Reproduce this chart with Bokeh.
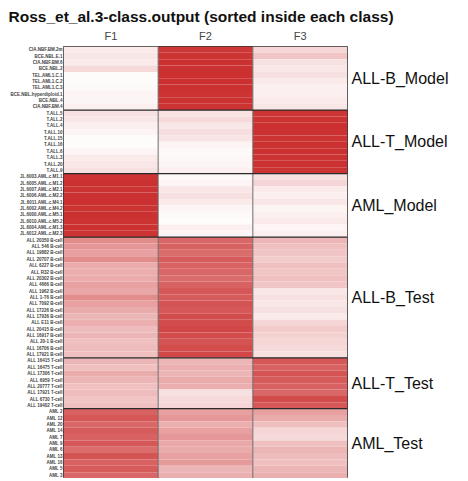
from bokeh.plotting import figure
from bokeh.models import ColumnDataSource, FixedTicker, LinearAxis, LinearColorMapper
from bokeh.embed import file_html
from bokeh.resources import INLINE
import numpy as np

title_text = "Ross_et_al.3-class.output (sorted inside each class)"
columns = ["F1", "F2", "F3"]
class_names = ["ALL-B_Model", "ALL-T_Model", "AML_Model", "ALL-B_Test", "ALL-T_Test", "AML_Test"]

labels_allb_model = ["CIA.NBF.BM.2m", "BCE.NBL.E.1", "CIA.NBF.BM.6", "BCE.NBL.2", "TEL.AML1.C.1",
                     "TEL.AML1.C.2", "TEL.AML1.C.3", "BCE.NBL.hyperdiploid.1", "BCE.NBL.4", "CIA.NBF.BM.4"]
labels_allt_model = ["T.ALL.5", "T.ALL.2", "T.ALL.4", "T.ALL.10", "T.ALL.15", "T.ALL.16", "T.ALL.6",
                     "T.ALL.3", "T.ALL.20", "T.ALL.9"]
labels_aml_model = ["JL.6003.AML.c.M1.1", "JL.6005.AML.c.M1.2", "JL.6007.AML.c.M2.1", "JL.6006.AML.c.M2.2",
                    "JL.6011.AML.c.M4.1", "JL.6002.AML.c.M4.2", "JL.6000.AML.c.M5.1", "JL.6010.AML.c.M5.2",
                    "JL.6004.AML.c.M1.3", "JL.6012.AML.c.M2.3"]
labels_allb_test = ["ALL 20350 B-cell", "ALL 546 B-cell", "ALL 19882 B-cell", "ALL 20707 B-cell",
                    "ALL 6227 B-cell", "ALL R32 B-cell", "ALL 20302 B-cell", "ALL 4666 B-cell",
                    "ALL 1962 B-cell", "ALL 1-T6 B-cell", "ALL 7092 B-cell", "ALL 17226 B-cell",
                    "ALL 17936 B-cell", "ALL E11 B-cell", "ALL 20415 B-cell", "ALL 16917 B-cell",
                    "ALL 20-1 B-cell", "ALL 16706 B-cell", "ALL 17921 B-cell"]
labels_allt_test = ["ALL 16415 T-cell", "ALL 16475 T-cell", "ALL 17306 T-cell", "ALL 6959 T-cell",
                    "ALL 20777 T-cell", "ALL 17921 T-cell", "ALL 6730 T-cell", "ALL 19402 T-cell"]
labels_aml_test = ["AML 2", "AML 12", "AML 20", "AML 14", "AML 7", "AML 9", "AML 6", "AML 13",
                   "AML 16", "AML 5", "AML 3"]

# values per class: rows x [F1, F2, F3]
f1_allb_model = [0.10, 0.12, 0.10, 0.18, 0.02, 0.02, 0.03, 0.06, 0.05, 0.08]
f2_allb_model = [0.95, 0.97, 0.98, 0.98, 0.99, 0.99, 0.98, 0.97, 0.98, 0.97]
f3_allb_model = [0.20, 0.28, 0.15, 0.12, 0.15, 0.10, 0.08, 0.08, 0.10, 0.12]

f1_allt_model = [0.15, 0.12, 0.08, 0.05, 0.02, 0.02, 0.05, 0.10, 0.12, 0.15]
f2_allt_model = [0.14, 0.18, 0.12, 0.16, 0.13, 0.06, 0.03, 0.04, 0.05, 0.08]
f3_allt_model = [0.96, 0.97, 0.98, 0.98, 0.97, 0.98, 0.98, 0.97, 0.98, 0.97]

f1_aml_model = [0.97, 0.98, 0.97, 0.98, 0.98, 0.97, 0.98, 0.97, 0.98, 0.97]
f2_aml_model = [0.03, 0.05, 0.12, 0.15, 0.10, 0.05, 0.03, 0.02, 0.08, 0.05]
f3_aml_model = [0.15, 0.20, 0.10, 0.08, 0.12, 0.06, 0.08, 0.10, 0.05, 0.08]

f1_allb_test = [0.55, 0.50, 0.45, 0.55, 0.40, 0.38, 0.40, 0.45, 0.42, 0.55, 0.45, 0.40, 0.35,
                0.38, 0.32, 0.35, 0.30, 0.32, 0.30]
f2_allb_test = [0.72, 0.75, 0.70, 0.78, 0.75, 0.72, 0.70, 0.75, 0.80, 0.78, 0.82, 0.80, 0.85,
                0.85, 0.88, 0.85, 0.82, 0.85, 0.88]
f3_allb_test = [0.35, 0.30, 0.28, 0.25, 0.30, 0.28, 0.30, 0.28, 0.12, 0.15, 0.12, 0.15, 0.10,
                0.20, 0.25, 0.22, 0.20, 0.18, 0.15]

f1_allt_test = [0.35, 0.30, 0.40, 0.35, 0.30, 0.32, 0.28, 0.30]
f2_allt_test = [0.35, 0.38, 0.35, 0.40, 0.38, 0.15, 0.18, 0.20]
f3_allt_test = [0.80, 0.75, 0.82, 0.78, 0.75, 0.72, 0.85, 0.80]

f1_aml_test = [0.75, 0.80, 0.72, 0.78, 0.75, 0.80, 0.70, 0.82, 0.75, 0.78, 0.72]
f2_aml_test = [0.45, 0.50, 0.38, 0.45, 0.50, 0.42, 0.40, 0.45, 0.48, 0.35, 0.38]
f3_aml_test = [0.45, 0.40, 0.30, 0.20, 0.18, 0.30, 0.35, 0.32, 0.30, 0.35, 0.38]

groups = [
    (labels_allb_model, f1_allb_model, f2_allb_model, f3_allb_model),
    (labels_allt_model, f1_allt_model, f2_allt_model, f3_allt_model),
    (labels_aml_model, f1_aml_model, f2_aml_model, f3_aml_model),
    (labels_allb_test, f1_allb_test, f2_allb_test, f3_allb_test),
    (labels_allt_test, f1_allt_test, f2_allt_test, f3_allt_test),
    (labels_aml_test, f1_aml_test, f2_aml_test, f3_aml_test),
]

row_labels = []
vals = []
for g in groups:
    row_labels += g[0]
    vals += list(zip(g[1], g[2], g[3]))
n = len(row_labels)
counts = [len(g[0]) for g in groups]

xs, ys, vs = [], [], []
for i, row in enumerate(vals):
    for j, v in enumerate(row):
        xs.append(j + 0.5)
        ys.append(n - i - 0.5)
        vs.append(v)
src = ColumnDataSource(dict(x=xs, y=ys, v=vs))

# white -> red palette
lo = np.array([255, 255, 255])
hi = np.array([203, 45, 45])
palette = []
for t in np.linspace(0, 1, 256):
    c = (lo + (hi - lo) * t).round().astype(int)
    palette.append("#%02x%02x%02x" % tuple(c))
mapper = LinearColorMapper(palette=palette, low=0, high=1)

p = figure(width=460, height=478, x_range=(0, 3), y_range=(0, n),
           output_backend="svg", toolbar_location=None, x_axis_location="above",
           min_border_left=63, min_border_right=113, min_border_top=46, min_border_bottom=0,
           title=title_text)
p.title.text_font = "Liberation Sans"
p.title.text_font_size = "15.5px"
p.title.text_font_style = "bold"
p.title.text_color = "#111111"
p.title.align = "left"
p.title.offset = -55
p.title.standoff = 3

p.rect(x="x", y="y", width=1, height=1, source=src,
       fill_color={"field": "v", "transform": mapper}, line_color=None)

p.grid.visible = False
p.outline_line_color = "#333333"
p.outline_line_width = 1

# column separators
for k in range(1, 3):
    p.segment(x0=[k], y0=[0], x1=[k], y1=[n], line_color="#6e6e6e", line_width=1)
# class separators
cum = np.cumsum(counts)
for c in cum[:-1]:
    p.segment(x0=[0], y0=[n - c], x1=[3], y1=[n - c], line_color="#2a2a2a", line_width=1.3)

# axes
xa = p.xaxis[0]
xa.ticker = FixedTicker(ticks=[0.5, 1.5, 2.5])
xa.major_label_overrides = {0.5: "F1", 1.5: "F2", 2.5: "F3"}
xa.axis_line_color = None
xa.major_tick_line_color = None
xa.minor_tick_line_color = None
xa.major_tick_out = 0
xa.major_tick_in = 0
xa.major_label_text_font = "Liberation Sans"
xa.major_label_text_font_size = "11px"
xa.major_label_text_color = "#444444"
xa.major_label_standoff = 5

ya = p.yaxis[0]
ya.ticker = FixedTicker(ticks=[n - i - 0.5 for i in range(n)])
ya.major_label_overrides = {n - i - 0.5: lab for i, lab in enumerate(row_labels)}
ya.axis_line_color = None
ya.major_tick_line_color = None
ya.minor_tick_line_color = None
ya.major_tick_out = 0
ya.major_tick_in = 0
ya.major_label_text_font = "Liberation Sans"
ya.major_label_text_font_size = "4.5px"
ya.major_label_text_font_style = "bold"
ya.major_label_standoff = 1

# class labels on the right
starts = np.concatenate([[0], cum[:-1]])
centers = [float(n - s - c / 2.0) for s, c in zip(starts, counts)]
ra = LinearAxis(ticker=FixedTicker(ticks=centers),
                major_label_overrides={cen: name for cen, name in zip(centers, class_names)})
ra.axis_line_color = None
ra.major_tick_line_color = None
ra.minor_tick_line_color = None
ra.major_tick_out = 0
ra.major_tick_in = 0
ra.major_label_text_font = "Liberation Sans"
ra.major_label_text_font_size = "16px"
ra.major_label_text_color = "#111111"
ra.major_label_standoff = 4
p.add_layout(ra, "right")

open("out.html", "w").write(file_html(p, INLINE))
